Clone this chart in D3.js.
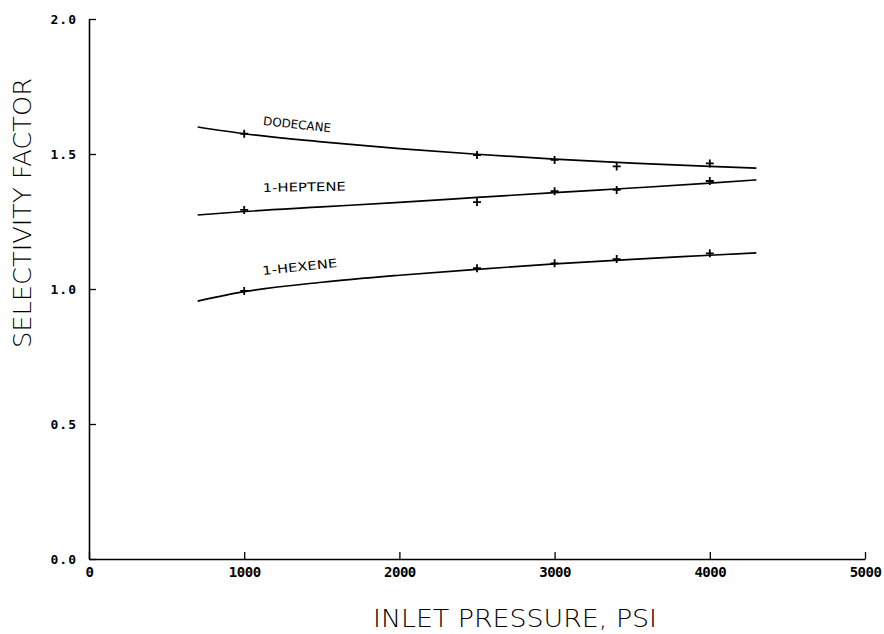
<!DOCTYPE html>
<html lang="en">
<head>
<meta charset="utf-8">
<title>Selectivity factor vs inlet pressure</title>
<script src="https://cdn.jsdelivr.net/npm/d3@7"></script>
<style>
  body { margin: 0; background: #fff; }
  svg { display: block; }
</style>
</head>
<body>
<script>
var curvePressure = [700, 1000, 1500, 2000, 2500, 3000, 3500, 4000, 4300];
var dodecaneCurve = [1.600, 1.575, 1.545, 1.520, 1.499, 1.481, 1.466, 1.454, 1.448];
var hepteneCurve  = [1.274, 1.287, 1.304, 1.321, 1.339, 1.357, 1.374, 1.392, 1.404];
var hexeneCurve   = [0.955, 0.990, 1.025, 1.051, 1.073, 1.093, 1.110, 1.125, 1.134];

// measured points (+ marks)
var pointPressure  = [1000, 2500, 3000, 3400, 4000];
var dodecanePoints = [1.575, 1.496, 1.478, 1.454, 1.465];
var heptenePoints  = [1.293, 1.322, 1.362, 1.367, 1.400];
var hexenePoints   = [0.993, 1.077, 1.095, 1.111, 1.132];

var seriesNames = ["DODECANE", "1-HEPTENE", "1-HEXENE"];
var xTicks = [0, 1000, 2000, 3000, 4000, 5000];
var yTicks = [0, 0.5, 1.0, 1.5, 2.0];

var w = 884, h = 634;

var svg = d3.select("body").append("svg")
  .attr("width", w)
  .attr("height", h);

var x = d3.scaleLinear().domain([0, 5000]).range([89, 865]);
var y = d3.scaleLinear().domain([0, 2]).range([559, 19]);

// axes, ticks pointing inward
var xAxis = d3.axisBottom(x).tickValues(xTicks).tickSizeInner(-7).tickSizeOuter(0)
  .tickPadding(10).tickFormat(d3.format("d"));
var yAxis = d3.axisLeft(y).tickValues(yTicks).tickSizeInner(-7).tickSizeOuter(0)
  .tickPadding(12).tickFormat(d3.format(".1f"));

var gx = svg.append("g").attr("transform", "translate(0,559)").call(xAxis);
var gy = svg.append("g").attr("transform", "translate(89,0)").call(yAxis);

[gx, gy].forEach(function(g) {
  g.select(".domain").attr("stroke", "#000").attr("stroke-width", 1.6);
  g.selectAll(".tick line").attr("stroke", "#000").attr("stroke-width", 1.3);
  g.selectAll(".tick text")
    .attr("fill", "#000")
    .style("font-family", "'DejaVu Sans Mono', monospace")
    .style("font-weight", "bold")
    .style("font-size", "14px");
});
gx.selectAll(".tick text").attr("dy", "0.6em").style("letter-spacing", "-0.5px");
gy.selectAll(".tick text").style("font-size", "13px").style("letter-spacing", "1px");

// axis titles
svg.append("text")
  .attr("x", 515).attr("y", 627)
  .attr("text-anchor", "middle")
  .attr("textLength", 284)
  .attr("lengthAdjust", "spacingAndGlyphs")
  .attr("fill", "#000")
  .style("font-family", "'DejaVu Sans', sans-serif")
  .style("font-weight", 300)
  .style("font-size", "24px")
  .text("INLET PRESSURE, PSI");

svg.append("text")
  .attr("transform", "translate(31,213) rotate(-90)")
  .attr("text-anchor", "middle")
  .attr("textLength", 270)
  .attr("lengthAdjust", "spacingAndGlyphs")
  .attr("fill", "#000")
  .style("font-family", "'DejaVu Sans', sans-serif")
  .style("font-weight", 300)
  .style("font-size", "25px")
  .text("SELECTIVITY FACTOR");

// curves
var line = d3.line()
  .x(function(d) { return x(d[0]); })
  .y(function(d) { return y(d[1]); })
  .curve(d3.curveMonotoneX);

[dodecaneCurve, hepteneCurve, hexeneCurve].forEach(function(vals) {
  svg.append("path")
    .datum(d3.zip(curvePressure, vals))
    .attr("d", line)
    .attr("fill", "none")
    .attr("stroke", "#000")
    .attr("stroke-width", 1.7);
});

// + markers
[dodecanePoints, heptenePoints, hexenePoints].forEach(function(vals) {
  svg.append("g").selectAll("path")
    .data(d3.zip(pointPressure, vals))
    .enter()
    .append("path")
    .attr("transform", function(d) { return "translate(" + x(d[0]) + "," + y(d[1]) + ")"; })
    .attr("d", "M-4,0H4M0,-4V4")
    .attr("stroke", "#000")
    .attr("stroke-width", 1.8);
});

// curve labels
var labelPos = [[1120, 1.607, 6], [1120, 1.359, -1], [1120, 1.052, -6]];
labelPos.forEach(function(p, i) {
  svg.append("text")
    .attr("transform", "translate(" + x(p[0]) + "," + y(p[1]) + ") rotate(" + p[2] + ")")
    .attr("textLength", i == 0 ? 68 : (i == 1 ? 83 : 75))
    .attr("lengthAdjust", "spacingAndGlyphs")
    .attr("fill", "#000")
    .style("font-family", "'DejaVu Sans', sans-serif")
    .style("font-size", "12px")
    .text(seriesNames[i]);
});
</script>
</body>
</html>
